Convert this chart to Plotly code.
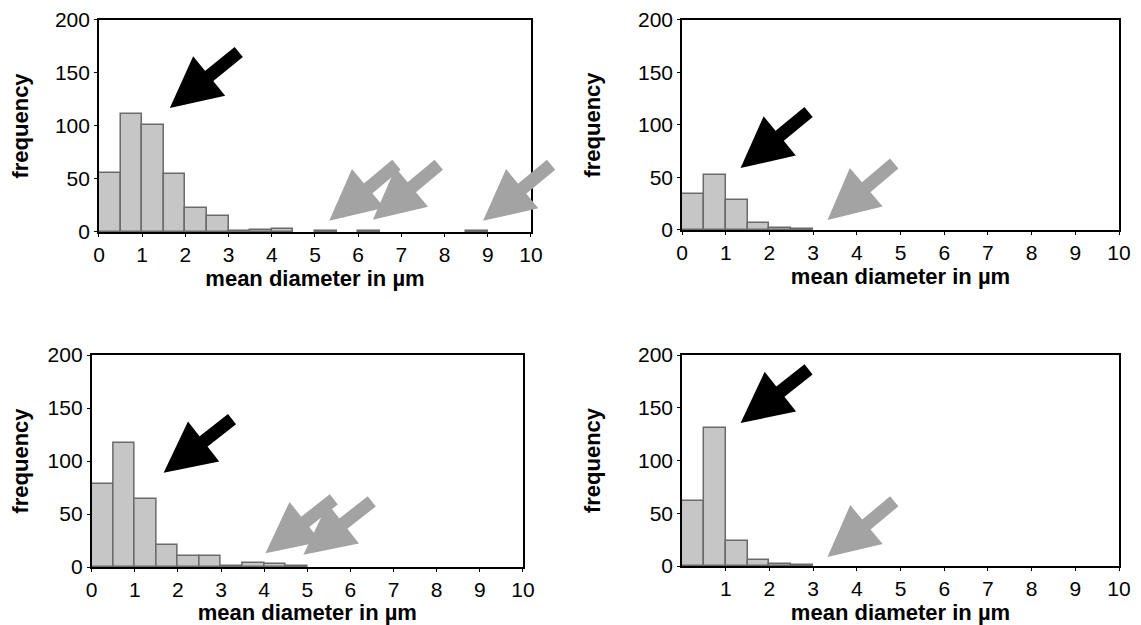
import plotly.graph_objects as go

# Histogram bins (0.5 µm wide), bin centres
bin_centers = [0.25 + 0.5 * i for i in range(20)]
bin_width = 0.5

freq_a = [56, 111, 101, 55, 23, 15, 1, 2, 3, 0, 1, 0, 1, 0, 0, 0, 0, 1, 0, 0]
freq_b = [34, 52, 29, 6.5, 2, 0.7, 0, 0, 0, 0, 0, 0, 0, 0, 0, 0, 0, 0, 0, 0]
freq_c = [78, 117, 64, 21, 10, 10, 1, 3.5, 3, 1, 0, 0, 0, 0, 0, 0, 0, 0, 0, 0]
freq_d = [62, 131, 24, 5.5, 2, 0.6, 0, 0, 0, 0, 0, 0, 0, 0, 0, 0, 0, 0, 0, 0]

x_ticks_full = [0, 1, 2, 3, 4, 5, 6, 7, 8, 9, 10]
x_ticks_no0 = [1, 2, 3, 4, 5, 6, 7, 8, 9, 10]
y_ticks = [0, 50, 100, 150, 200]

# arrows: (tip_x, tip_y, tail_x, tail_y, colour)
arrows_a = [(1.64, 117, 3.27, 171, "black"),
            (5.33, 10.5, 6.92, 64.5, "gray"),
            (6.34, 11.5, 7.90, 64.5, "gray"),
            (8.89, 10.5, 10.5, 64.5, "gray")]
arrows_b = [(1.34, 59, 2.93, 113.5, "black"),
            (3.33, 9.5, 4.89, 64.5, "gray")]
arrows_c = [(1.67, 89, 3.29, 140.5, "black"),
            (4.03, 13, 5.65, 65, "gray"),
            (4.91, 11.5, 6.53, 63, "gray")]
arrows_d = [(1.34, 135.5, 2.93, 187.5, "black"),
            (3.33, 8.5, 4.89, 62.5, "gray")]

panels = [
    (freq_a, arrows_a, x_ticks_full, [0.0803, 0.4616], [0.6370, 0.9806]),
    (freq_b, arrows_b, x_ticks_full, [0.5949, 0.9806], [0.6402, 0.9806]),
    (freq_c, arrows_c, x_ticks_full, [0.0738, 0.4545], [0.0940, 0.4376]),
    (freq_d, arrows_d, x_ticks_no0, [0.5949, 0.9806], [0.0956, 0.4376]),
]

colours = {"black": "#000000", "gray": "#a3a3a3"}
font_family = "Liberation Sans, Arial, sans-serif"

fig = go.Figure()
layout = dict(
    width=1133, height=617,
    margin=dict(l=0, r=0, t=0, b=0),
    paper_bgcolor="white", plot_bgcolor="white",
    showlegend=False,
    font=dict(family=font_family, color="black", size=20),
    bargap=0,
)
annotations = []

for i, (freq, arrows, xt, xdom, ydom) in enumerate(panels):
    n = "" if i == 0 else str(i + 1)
    xa, ya = "x" + n, "y" + n
    xs = [c for c, f in zip(bin_centers, freq) if f > 0]
    ys = [f for f in freq if f > 0]
    fig.add_trace(go.Bar(
        x=xs, y=ys, width=bin_width,
        marker=dict(color="#c6c6c6", line=dict(color="#6a6a6a", width=1.5)),
        xaxis=xa, yaxis=ya, hoverinfo="x+y",
    ))
    layout["xaxis" + n] = dict(
        domain=xdom, anchor=ya, range=[0, 10], automargin=False,
        tickvals=xt, ticktext=[str(v) for v in xt],
        ticks="outside", ticklen=3, tickwidth=1.2, tickcolor="black",
        showline=True, linecolor="black", linewidth=1.6, mirror=True,
        showgrid=False, zeroline=False, ticklabeloverflow="allow",
        tickfont=dict(size=21),
        title=dict(text="<b>mean diameter in µm</b>", font=dict(size=22), standoff=5),
    )
    layout["yaxis" + n] = dict(
        domain=ydom, anchor=xa, range=[0, 200], automargin=False,
        tickvals=y_ticks,
        ticks="outside", ticklen=3, tickwidth=1.2, tickcolor="black",
        showline=True, linecolor="black", linewidth=1.6, mirror=True,
        showgrid=False, zeroline=False, ticklabeloverflow="allow",
        tickfont=dict(size=21),
        title=dict(text="<b>frequency</b>", font=dict(size=22), standoff=31),
    )
    for (tx, ty, sx, sy, c) in arrows:
        annotations.append(dict(
            x=tx, y=ty, xref=xa, yref=ya,
            ax=sx, ay=sy, axref=xa, ayref=ya,
            text="", showarrow=True,
            arrowhead=2, arrowsize=0.78, arrowwidth=13,
            arrowcolor=colours[c],
        ))

layout["annotations"] = annotations
fig.update_layout(**layout)
fig.write_html("out.html")
